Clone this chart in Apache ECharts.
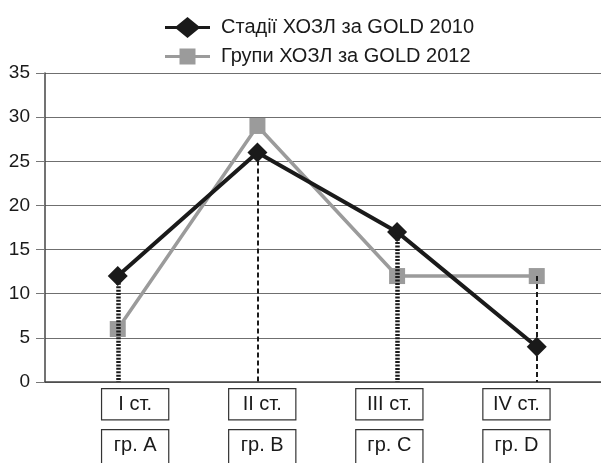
<!DOCTYPE html>
<html>
<head>
<meta charset="utf-8">
<script src="https://cdn.jsdelivr.net/npm/echarts@6/dist/echarts.min.js"></script>
<style>
  html, body { margin: 0; padding: 0; background: #fff; }
  #chart { width: 601px; height: 463px; }
</style>
</head>
<body>
<div id="chart"></div>
<script>
// Stage labels (GOLD 2010) and group labels (GOLD 2012) under each position
const stageLabels = ['I ст.', 'II ст.', 'III ст.', 'IV ст.'];
const groupLabels = ['гр. A', 'гр. B', 'гр. C', 'гр. D'];

const seriesNames = ['Стадії ХОЗЛ за GOLD 2010', 'Групи ХОЗЛ за GOLD 2012'];
const gold2010 = [12, 26, 17, 4];
const gold2012 = [6, 29, 12, 12];

// Height each vertical drop line starts from, and whether it is the heavy dotted style
const dropTop = [12, 26, 17, 12];
const dropHeavy = [true, false, true, false];

const yTicks = { min: 0, max: 35, interval: 5 };

const FONT = '"Liberation Sans", Arial, sans-serif';
const INK = '#1a1a1a';
const GREY = '#9b9b9b';

// Legend glyphs: a short line with the series marker on it (45 x 21 box)
const ICON_DIAMOND = 'path://M0,9 L11.5,9 L22.5,0 L33.5,9 L45,9 L45,12 L33.5,12 L22.5,21 L11.5,12 L0,12 Z';
const ICON_SQUARE = 'path://M0,0 L0.01,0 L0,0.01 Z M45,21 L44.99,21 L45,20.99 Z ' +
  'M0,9 L14.5,9 L14.5,2.5 L30.5,2.5 L30.5,9 L45,9 L45,12 L30.5,12 L30.5,18.5 L14.5,18.5 L14.5,12 L0,12 Z';

const toPoints = arr => arr.map((v, i) => [i, v]);

const dropLines = dropTop.map((v, i) => [
  {
    coord: [i, v],
    lineStyle: dropHeavy[i]
      ? { color: INK, width: 4.5, type: [2, 1.4] }
      : { color: INK, width: 2, type: [5, 3] }
  },
  { coord: [i, 0] }
]);

const boxLabel = {
  interval: 0,
  fontFamily: FONT,
  fontSize: 20,
  color: '#1a1a1a',
  width: 66,
  align: 'center',
  lineHeight: 20,
  padding: [5, 0, 5, 0],
  borderColor: '#333',
  borderWidth: 1.2,
  backgroundColor: '#fff'
};

const chart = echarts.init(document.getElementById('chart'), null, { renderer: 'canvas' });

chart.setOption({
  animation: false,
  backgroundColor: '#fff',
  textStyle: { fontFamily: FONT },
  legend: {
    orient: 'vertical',
    left: 160,
    top: 12,
    itemWidth: 45,
    itemHeight: 21,
    itemGap: 8,
    textStyle: { fontFamily: FONT, fontSize: 20, color: '#1a1a1a', padding: [0, 0, 0, 6] },
    data: [
      { name: seriesNames[0], icon: ICON_DIAMOND },
      { name: seriesNames[1], icon: ICON_SQUARE }
    ]
  },
  grid: [
    { left: 45, right: 0, top: 73, bottom: 81, containLabel: false },
    { left: 71.6, width: 508.4, top: 381, height: 1, containLabel: false }
  ],
  xAxis: [
    {
      type: 'value',
      gridIndex: 0,
      min: -0.521,
      max: 3.46,
      axisLine: { show: true, onZero: false, lineStyle: { color: '#444', width: 1.5 } },
      axisTick: { show: false },
      axisLabel: { show: false },
      splitLine: { show: false }
    },
    {
      type: 'category',
      gridIndex: 1,
      position: 'bottom',
      data: stageLabels,
      axisLine: { show: false },
      axisTick: { show: false },
      axisLabel: Object.assign({ margin: 8 }, boxLabel)
    },
    {
      type: 'category',
      gridIndex: 1,
      position: 'bottom',
      offset: 41,
      data: groupLabels,
      axisLine: { show: false },
      axisTick: { show: false },
      axisLabel: Object.assign({ margin: 8 }, boxLabel, { padding: [5, 0, 10, 0] })
    }
  ],
  yAxis: [
    {
      type: 'value',
      gridIndex: 0,
      min: yTicks.min,
      max: yTicks.max,
      interval: yTicks.interval,
      axisLine: { show: true, onZero: false, lineStyle: { color: '#444', width: 1.5 } },
      axisTick: { show: true, length: 9, lineStyle: { color: '#777', width: 1 } },
      axisLabel: { margin: 15, fontFamily: FONT, fontSize: 19, color: '#1a1a1a' },
      splitLine: { show: true, lineStyle: { color: '#6f6f6f', width: 1 } }
    },
    {
      type: 'value',
      gridIndex: 1,
      show: false
    }
  ],
  series: [
    {
      // carrier for the vertical drop lines, kept beneath the data lines
      type: 'line',
      xAxisIndex: 0,
      yAxisIndex: 0,
      data: [],
      z: 1,
      silent: true,
      markLine: {
        silent: true,
        symbol: ['none', 'none'],
        label: { show: false },
        data: dropLines
      }
    },
    {
      name: seriesNames[1],
      type: 'line',
      xAxisIndex: 0,
      yAxisIndex: 0,
      data: toPoints(gold2012),
      z: 3,
      symbol: 'rect',
      symbolSize: 16,
      lineStyle: { color: GREY, width: 3.5 },
      itemStyle: { color: GREY }
    },
    {
      name: seriesNames[0],
      type: 'line',
      xAxisIndex: 0,
      yAxisIndex: 0,
      data: toPoints(gold2010),
      z: 4,
      symbol: 'diamond',
      symbolSize: 20,
      lineStyle: { color: INK, width: 4 },
      itemStyle: { color: INK }
    }
  ]
});
</script>
</body>
</html>
